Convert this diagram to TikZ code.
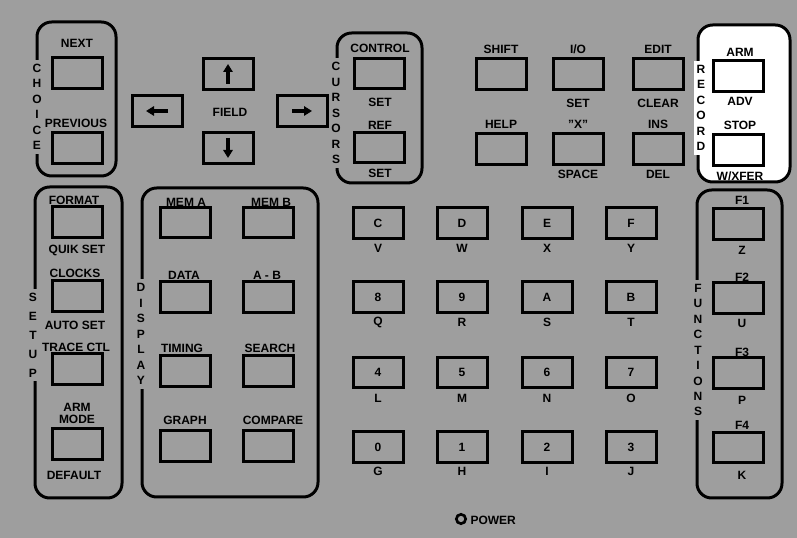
\documentclass[tikz,border=0pt]{standalone}
\usepackage{fontspec}
\setmainfont{Liberation Sans}
\usetikzlibrary{arrows.meta}
\tikzset{every picture/.style={line width=0.75pt}}
\definecolor{panelgray}{gray}{0.62}
\tikzset{
  group/.style={draw, line width=2.25pt, rounded corners=11pt},
  key/.style={draw, line width=2.25pt, minimum width=37.5pt, minimum height=23pt, inner sep=0pt},
  keytext/.style={font=\bfseries\fontsize{9}{10}\selectfont, inner sep=0.75pt},
  grouptag/.style={fill=panelgray, align=center, inner xsep=1.5pt, inner ysep=3pt, font=\bfseries\fontsize{9}{11.6}\selectfont},
  keyarrow/.style={-{Triangle[length=6pt,width=7pt]}, line width=2.5pt},
}

\begin{document}
\begin{tikzpicture}[x=0.75pt,y=0.75pt,yscale=-1,xscale=1]
%Panel
\fill[panelgray] (0,0) rectangle (797,538);
\useasboundingbox (0,0) rectangle (797,538);

%Rounded Rect: choice
\draw[group] (37,22) rectangle (116,176);
%Rounded Rect: cursors
\draw[group] (337,33) rectangle (422,183);
%Rounded Rect: record
\draw[group, fill=white] (698,25) rectangle (790,182);
%Rounded Rect: setup
\draw[group] (35,187) rectangle (122,498);
%Rounded Rect: display
\draw[group] (142,188) rectangle (318,497);
%Rounded Rect: functions
\draw[group] (697,190) rectangle (782,498);

% Group Tags
\node[grouptag] (choicetag) at (37,107) {C\\H\\O\\I\\C\\E};
\node[grouptag] (cursorstag) at (336,113) {C\\U\\R\\S\\O\\R\\S};
\node[grouptag, fill=white] (recordtag) at (701,108) {R\\E\\C\\O\\R\\D};
\node[grouptag, font=\bfseries\fontsize{9}{14.3}\selectfont] (setuptag) at (33,335) {S\\E\\T\\U\\P};
\node[grouptag] (displaytag) at (141,334) {D\\I\\S\\P\\L\\A\\Y};
\node[grouptag] (functionstag) at (698,350) {F\\U\\N\\C\\T\\I\\O\\N\\S};

%Keys: choice
\node[key] (next) at (77.5,73) {};
\node[key] (previous) at (77.5,148) {};
% Text Node
\node[keytext] (nextlbl) at (77,43) {NEXT};
\node[keytext] (previouslbl) at (76,123) {PREVIOUS};

%Keys: field
\node[key] (fieldup) at (228,74) {};
\node[key] (fieldleft) at (157,111) {};
\node[key] (fieldright) at (302,111) {};
\node[key] (fielddown) at (228,148) {};
\draw[keyarrow] (fieldup.center) ++(0,10) -- ++(0,-20);
\draw[keyarrow] (fielddown.center) ++(0,-10) -- ++(0,20);
\draw[keyarrow] (fieldleft.center) ++(11,0) -- ++(-22,0);
\draw[keyarrow] (fieldright.center) ++(-10,0) -- ++(20,0);
% Text Node
\node[keytext] (fieldlbl) at (230,112) {FIELD};

%Keys: cursors
\node[key] (control) at (379.5,73.5) {};
\node[key] (ref) at (379.5,147.5) {};
% Text Node
\node[keytext] (controllbl) at (380,48) {CONTROL};
\node[keytext] (controlset) at (380,102) {SET};
\node[keytext] (reflbl) at (380,125) {REF};
\node[keytext] (refset) at (380,173) {SET};

%Keys: edit block
\node[key] (shift) at (501,74) {};
\node[key] (io) at (578,74) {};
\node[key] (edit) at (658,74) {};
\node[key] (help) at (501,149) {};
\node[key] (xkey) at (578,149) {};
\node[key] (ins) at (658,149) {};
% Text Node
\node[keytext] (shiftlbl) at (501,49) {SHIFT};
\node[keytext] (iolbl) at (578,49) {I/O};
\node[keytext] (editlbl) at (658,49) {EDIT};
\node[keytext] (ioset) at (578,103) {SET};
\node[keytext] (editclear) at (658,103) {CLEAR};
\node[keytext] (helplbl) at (501,124) {HELP};
\node[keytext] (xlbl) at (578,124) {"X"};
\node[keytext] (inslbl) at (658,124) {INS};
\node[keytext] (xspace) at (578,174) {SPACE};
\node[keytext] (insdel) at (658,174) {DEL};

%Keys: record
\node[key] (arm) at (738,76) {};
\node[key] (stop) at (738,150) {};
% Text Node
\node[keytext] (armlbl) at (740,52) {ARM};
\node[keytext] (armadv) at (740,101) {ADV};
\node[keytext] (stoplbl) at (740,125) {STOP};
\node[keytext] (stopxfer) at (740,176) {W/XFER};

%Keys: setup
\node[key] (format) at (77,222) {};
\node[key] (clocks) at (77,296) {};
\node[key] (tracectl) at (77,369) {};
\node[key] (armmode) at (77,444) {};
% Text Node
\node[keytext] (formatlbl) at (74,200) {FORMAT};
\node[keytext] (formatquik) at (77,250) {QUIK SET};
\node[keytext] (clockslbl) at (75,273) {CLOCKS};
\node[keytext] (clocksauto) at (75,325) {AUTO SET};
\node[keytext] (tracectllbl) at (76,347) {TRACE CTL};
\node[keytext] (armmodelbl) at (77,407) {ARM};
\node[keytext] (armmodelbltwo) at (77,419) {MODE};
\node[keytext] (armmodedef) at (74,475) {DEFAULT};

%Keys: display
\node[key] (mema) at (185,222.5) {};
\node[key] (memb) at (268,222.5) {};
\node[key] (data) at (185,297) {};
\node[key] (amb) at (268,297) {};
\node[key] (timing) at (185,371) {};
\node[key] (search) at (268,371) {};
\node[key] (graph) at (185,446) {};
\node[key] (compare) at (268,446) {};
% Text Node
\node[keytext] (memalbl) at (186,202) {MEM A};
\node[keytext] (memblbl) at (271,202) {MEM B};
\node[keytext] (datalbl) at (184,275) {DATA};
\node[keytext] (amblbl) at (267,275) {A - B};
\node[keytext] (timinglbl) at (182,348) {TIMING};
\node[keytext] (searchlbl) at (270,348) {SEARCH};
\node[keytext] (graphlbl) at (185,420) {GRAPH};
\node[keytext] (comparelbl) at (273,420) {COMPARE};

%Keys: hex pad
\node[key] (keyc) at (378,223) {};
\node[key] (keyd) at (462,223) {};
\node[key] (keye) at (547,223) {};
\node[key] (keyf) at (631,223) {};
\node[key] (keyeight) at (378,297) {};
\node[key] (keynine) at (462,297) {};
\node[key] (keya) at (547,297) {};
\node[key] (keyb) at (631,297) {};
\node[key] (keyfour) at (378,372.5) {};
\node[key] (keyfive) at (462,372.5) {};
\node[key] (keysix) at (547,372.5) {};
\node[key] (keyseven) at (631,372.5) {};
\node[key] (keyzero) at (378,447) {};
\node[key] (keyone) at (462,447) {};
\node[key] (keytwo) at (547,447) {};
\node[key] (keythree) at (631,447) {};
% Text Node
\node[keytext] at (keyc) {C};
\node[keytext] at (keyd) {D};
\node[keytext] at (keye) {E};
\node[keytext] at (keyf) {F};
\node[keytext] at (keyeight) {8};
\node[keytext] at (keynine) {9};
\node[keytext] at (keya) {A};
\node[keytext] at (keyb) {B};
\node[keytext] at (keyfour) {4};
\node[keytext] at (keyfive) {5};
\node[keytext] at (keysix) {6};
\node[keytext] at (keyseven) {7};
\node[keytext] at (keyzero) {0};
\node[keytext] at (keyone) {1};
\node[keytext] at (keytwo) {2};
\node[keytext] at (keythree) {3};
% Text Node
\node[keytext] (keyclbl) at (378,248) {V};
\node[keytext] (keydlbl) at (462,248) {W};
\node[keytext] (keyelbl) at (547,248) {X};
\node[keytext] (keyflbl) at (631,248) {Y};
\node[keytext] (keyeightlbl) at (378,322) {Q};
\node[keytext] (keyninelbl) at (462,322) {R};
\node[keytext] (keyalbl) at (547,322) {S};
\node[keytext] (keyblbl) at (631,322) {T};
\node[keytext] (keyfourlbl) at (378,398) {L};
\node[keytext] (keyfivelbl) at (462,398) {M};
\node[keytext] (keysixlbl) at (547,398) {N};
\node[keytext] (keysevenlbl) at (631,398) {O};
\node[keytext] (keyzerolbl) at (378,471) {G};
\node[keytext] (keyonelbl) at (462,471) {H};
\node[keytext] (keytwolbl) at (547,471) {I};
\node[keytext] (keythreelbl) at (631,471) {J};

%Keys: functions
\node[key] (fone) at (738,224) {};
\node[key] (ftwo) at (738,298) {};
\node[key] (fthree) at (738,373) {};
\node[key] (ffour) at (738,447.5) {};
% Text Node
\node[keytext] (fonelbl) at (742,200) {F1};
\node[keytext] (fonealt) at (742,250) {Z};
\node[keytext] (ftwolbl) at (742,277) {F2};
\node[keytext] (ftwoalt) at (742,323) {U};
\node[keytext] (fthreelbl) at (742,352) {F3};
\node[keytext] (fthreealt) at (742,400) {P};
\node[keytext] (ffourlbl) at (742,425) {F4};
\node[keytext] (ffouralt) at (742,475) {K};

%Power lamp
\node[draw, circle, line width=2pt, minimum size=7pt, inner sep=0pt] (led) at (461,519) {};
\node[keytext, anchor=west] (powerlbl) at (469,520) {POWER};

\end{tikzpicture}
\end{document}
